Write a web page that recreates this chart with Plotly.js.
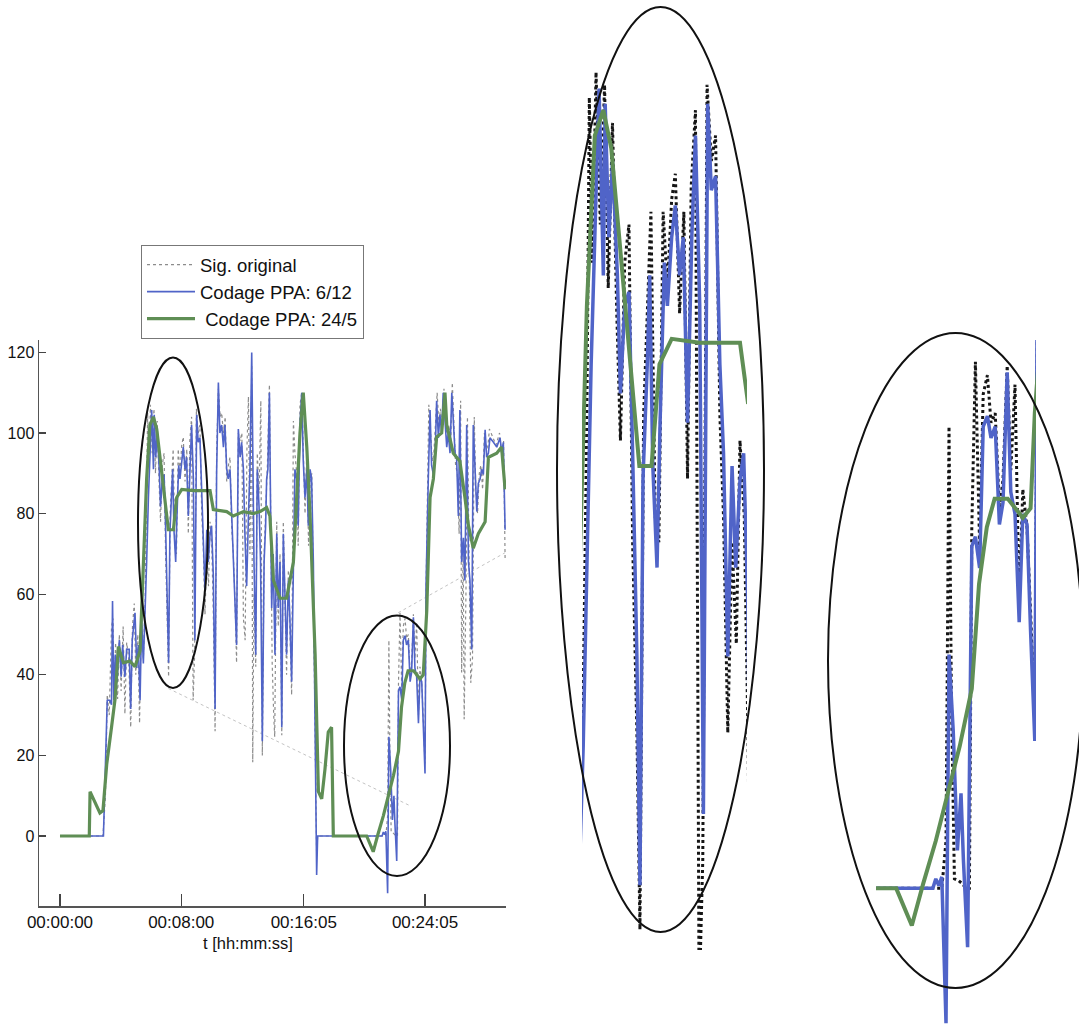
<!DOCTYPE html>
<html>
<head>
<meta charset="utf-8">
<script src="https://cdn.plot.ly/plotly-3.0.1.min.js"></script>
<style>
html,body{margin:0;padding:0;background:#fff;}
#chart{width:1079px;height:1029px;}
</style>
</head>
<body>
<div id="chart"></div>
<script>
// ---- Data (time in seconds, value) ----
const tickVals = [0, 480, 965, 1445];
const tickText = ["00:00:00", "00:08:00", "00:16:05", "00:24:05"];
const yTickVals = [0, 20, 40, 60, 80, 100, 120];

// Sig. original
const tOrig = [0,170,180,187,195,204,210,214,220,228,235,242,250,257,264,272,280,287,294,300,308,315,322,330,337,343,347,352,358,365,372,378,385,392,398,405,412,418,425,430,436,442,448,455,461,468,475,482,488,495,502,508,514,521,527,533,540,547,554,561,567,574,581,588,594,601,607,614,620,627,634,640,647,654,660,667,673,680,686,693,699,706,713,720,726,733,740,746,752,759,763,768,775,781,788,795,801,808,815,821,829,835,840,846,850,858,864,871,878,884,891,897,904,911,917,924,930,937,943,950,957,963,970,977,984,990,997,1003,1010,1016,1020,1290,1297,1302,1306,1311,1318,1324,1330,1336,1340,1346,1353,1359,1366,1372,1379,1386,1392,1399,1405,1412,1419,1425,1432,1438,1445,1450,1456,1460,1467,1474,1480,1487,1493,1500,1506,1513,1520,1526,1533,1540,1546,1553,1560,1566,1573,1580,1586,1590,1596,1600,1607,1613,1620,1626,1633,1640,1646,1653,1660,1666,1673,1680,1686,1693,1700,1713,1726,1740,1749,1756,1762];
const vOrig = [0,0,10,35,30,52,54,32,48,34,50,36,52,30.3,48,44,27,52,57.7,40,50,28,56,44,58,80,105,92,107,95,106,90,103,88,78,92,95,70,55,39.5,80,88,96,72,70,96,90,97,99,88,96,75,98,104,33.7,45,106,100,102,80,72,55,70,62,78,72,55,26,95,111,104,105,100,104,88,92,94,76,70,58,43,100,98,100,54,48.6,96,109,70,117,18.3,60,42,95,85,108,20,70,80,92,112,76,43,30,24.6,78,52,70,25,78,58,40,66,50,35,103,95,90,72,107,110,96,80,95,72,88,90,60,18,-5,0,0,5,48.6,20,1,0.8,0.5,0,0,38,55.4,36,52,54,49,50,40,43,55,44,53,30,42,38,29,18,65,90,107,100,93,95,104,110,102,106,101,111,104,98,102,96,112.5,100,92,90,75,108,40.6,72,29,60,104,66,38,44,104,86,80,90,92,86,100,97,96,101,99,97,100,94,98,69];

// faint connecting dotted segments of the original signal
const tLink = [429, 1386, null, 1339, 1762];
const vLink = [36.6, 7.5, null, 55.4, 70.3];

// Codage PPA: 6/12
const tBlue = [0,172,187,197,204,208,213,219,226,235,242,248,257,264,274,280,286,297,304,310,317,323,330,337,343,350,356,363,370,373,379,385,393,398,405,412,418,425,430,435,442,446,451,458,463,470,475,482,488,495,501,508,515,521,528,534,541,547,554,561,567,574,581,587,594,600,607,614,620,627,633,640,647,653,660,666,673,680,686,693,699,706,713,719,726,732,739,746,752,759,763,768,775,781,788,794,801,808,814,818,823,829,834,838,844,851,858,864,871,878,884,891,897,904,910,917,924,930,937,943,950,957,963,970,977,983,990,996,1003,1010,1016,1020,1275,1280,1285,1290,1297,1302,1309,1316,1322,1326,1333,1340,1346,1353,1359,1366,1372,1379,1386,1392,1399,1405,1412,1419,1425,1432,1438,1445,1449,1455,1458,1465,1471,1478,1485,1491,1498,1504,1511,1517,1524,1531,1537,1544,1551,1557,1564,1570,1577,1583,1590,1597,1603,1610,1617,1623,1630,1636,1643,1650,1656,1663,1669,1676,1683,1689,1696,1702,1716,1729,1742,1749,1755,1762];
const vBlue = [0,0,33.7,33.7,32.6,58.3,33.7,45,38.3,48.6,39.5,47.4,39.5,46.3,46.3,31.5,48.6,55.4,41.7,47.4,33.7,54,42.8,54,68,84,94,105.7,91,104.5,94,100,91,81.7,88.6,89.7,77,61,43,75,84,91,76.1,68,79.4,92,88.6,94,96.5,91,94,79.4,94,102,88.6,48.6,104.5,97.7,98.8,84,77,61,76,68,74.9,77,64.6,31.5,90,112.5,100,102,96.5,102,91,88.6,91,79.4,73.7,62,47.4,101,94,97.7,91,75,62,79.4,91,120,96.5,68,45,91,81.7,68,23.5,68,77,88.6,91,110,79.4,56.6,70,45,75,56.6,68,27,75,61,45,63.4,54.3,38.3,74,91,88.6,77,102,110,93.1,84,91,77,91,88.6,68,21,-9.7,0,0,1,0.3,1.2,-14.2,24.6,16.6,4,10,3,-6.2,36,37,33.7,48.6,49.7,47.4,48.6,38.3,40.6,54.3,41.7,39.4,28,39.4,38.3,27,15.5,62,84,88.6,105.7,92,89.7,94,108,98.8,104.5,99.9,110,102,96.5,99.9,95,110,102,95,94,79.4,105.7,68,74,63.4,102,68,63.4,46.3,102,88.6,80.5,87.5,88.6,91,89.7,100.8,94,95,98.8,97.7,96.5,98.8,95,97.7,76];

// Codage PPA: 24/5
const tGreen = [0,116,119,135,158,170,185,204,218,231,240,251,277,297,317,330,343,356,370,383,396,416,429,449,462,482,528,594,607,660,686,726,765,792,818,831,845,871,897,924,950,963,977,990,1010,1023,1036,1049,1062,1075,1082,1214,1240,1259,1280,1300,1320,1340,1352,1365,1378,1400,1412,1425,1438,1445,1452,1465,1478,1491,1511,1524,1531,1557,1583,1603,1617,1636,1656,1683,1696,1729,1748,1762];
const vGreen = [0,0,11,9,5.7,6.3,17.8,27,34,47,45,43,43.4,42,46,66,88.6,102,104,101,94,83,76,76,84,86,85.7,85.7,81,80.5,79.4,80.5,80,80.5,81.5,79.4,63.4,59,59,68,100,110,96.5,79.4,45,11,9.2,16.6,25.8,27,0,0,-3.9,0.5,5,10,15,21,32,38,41,41,40,39,40,50,56,84,88.6,99,100,110,102,95,93,84,77,71.4,75,78,94,95,96.5,86];

// ---- Layout helpers (pixel -> paper) ----
const W = 1079, H = 1029;
const px = x => x / W;
const py = y => 1 - y / H;

const FONT = "Liberation Sans, Arial, Helvetica, sans-serif";
const BLUE = "#5064c8";
const GREEN = "#5f8e55";

const traces = [
  {x: tOrig, y: vOrig, mode: "lines", name: "Sig. original",
   line: {color: "#8c8c8c", width: 1.2, dash: "dot"}, xaxis: "x", yaxis: "y"},
  {x: tLink, y: vLink, mode: "lines", name: "Sig. original (liaisons)", showlegend: false,
   line: {color: "#c4c4c4", width: 1, dash: "dot"}, xaxis: "x", yaxis: "y"},
  {x: tBlue, y: vBlue, mode: "lines", name: "Codage PPA: 6/12",
   line: {color: BLUE, width: 1.6}, xaxis: "x", yaxis: "y"},
  {x: tGreen, y: vGreen, mode: "lines", name: " Codage PPA: 24/5",
   line: {color: GREEN, width: 3.2}, xaxis: "x", yaxis: "y"},
  // inset 1
  {x: tOrig, y: vOrig, mode: "lines", showlegend: false, line: {color: "#151515", width: 3, dash: "dot"}, xaxis: "x2", yaxis: "y2"},
  {x: tBlue, y: vBlue, mode: "lines", showlegend: false, line: {color: BLUE, width: 3.5}, xaxis: "x2", yaxis: "y2"},
  {x: tGreen, y: vGreen, mode: "lines", showlegend: false, line: {color: GREEN, width: 4}, xaxis: "x2", yaxis: "y2"},
  // inset 2
  {x: tOrig, y: vOrig, mode: "lines", showlegend: false, line: {color: "#151515", width: 3, dash: "dot"}, xaxis: "x3", yaxis: "y3"},
  {x: tBlue, y: vBlue, mode: "lines", showlegend: false, line: {color: BLUE, width: 3.5}, xaxis: "x3", yaxis: "y3"},
  {x: tGreen, y: vGreen, mode: "lines", showlegend: false, line: {color: GREEN, width: 4}, xaxis: "x3", yaxis: "y3"}
];

function ell(x0, x1, y0, y1) {
  return {type: "circle", xref: "paper", yref: "paper",
          x0: px(x0), x1: px(x1), y0: py(y1), y1: py(y0),
          line: {color: "#111", width: 2}, layer: "above"};
}

const layout = {
  width: W, height: H, autosize: false,
  margin: {l: 0, r: 0, t: 0, b: 0, pad: 0},
  paper_bgcolor: "#fff", plot_bgcolor: "rgba(0,0,0,0)",
  font: {family: FONT, size: 16, color: "#1a1a1a"},
  showlegend: true,
  hovermode: false,
  xaxis: {
    domain: [px(39), px(506)], range: [-83.1, 1765.6],
    tickmode: "array", tickvals: tickVals, ticktext: tickText,
    ticks: "inside", ticklen: 12, tickwidth: 1.3, tickcolor: "#444",
    showline: true, linecolor: "#555", linewidth: 1.5,
    showgrid: false, zeroline: false,
    tickfont: {size: 17, family: FONT, color: "#111"}
  },
  yaxis: {
    domain: [py(906), py(340)], range: [-17.37, 123.08],
    tickmode: "array", tickvals: yTickVals,
    ticks: "inside", ticklen: 7, tickwidth: 1.3, tickcolor: "#444",
    showline: true, linecolor: "#555", linewidth: 1.5,
    showgrid: false, zeroline: false,
    tickfont: {size: 16, family: FONT, color: "#111"}
  },
  xaxis2: {domain: [px(582), px(747)], range: [335, 605.5], visible: false, anchor: "y2"},
  yaxis2: {domain: [py(950), py(20)], range: [37.9, 111.1], visible: false, anchor: "x2"},
  xaxis3: {domain: [px(876), px(1036)], range: [1180.3, 1447], visible: false, anchor: "y3"},
  yaxis3: {domain: [py(1029), py(340)], range: [-14.8, 57.7], visible: false, anchor: "x3"},
  legend: {
    x: px(141), y: py(245), xanchor: "left", yanchor: "top",
    bgcolor: "#fff", bordercolor: "#777", borderwidth: 1,
    font: {size: 18.5, family: FONT, color: "#111"},
    itemwidth: 48, tracegroupgap: 0
  },
  annotations: [
    {text: "t [hh:mm:ss]", xref: "paper", yref: "paper", x: px(248), y: py(943),
     xanchor: "center", yanchor: "middle", showarrow: false,
     font: {size: 16.5, family: FONT, color: "#111"}}
  ],
  shapes: [
    ell(138, 208, 357.5, 688),
    ell(344, 450, 615.6, 876),
    ell(557, 764, 7, 932),
    ell(828, 1083, 333, 988)
  ]
};

Plotly.newPlot("chart", traces, layout, {staticPlot: true, displayModeBar: false});
</script>
</body>
</html>
